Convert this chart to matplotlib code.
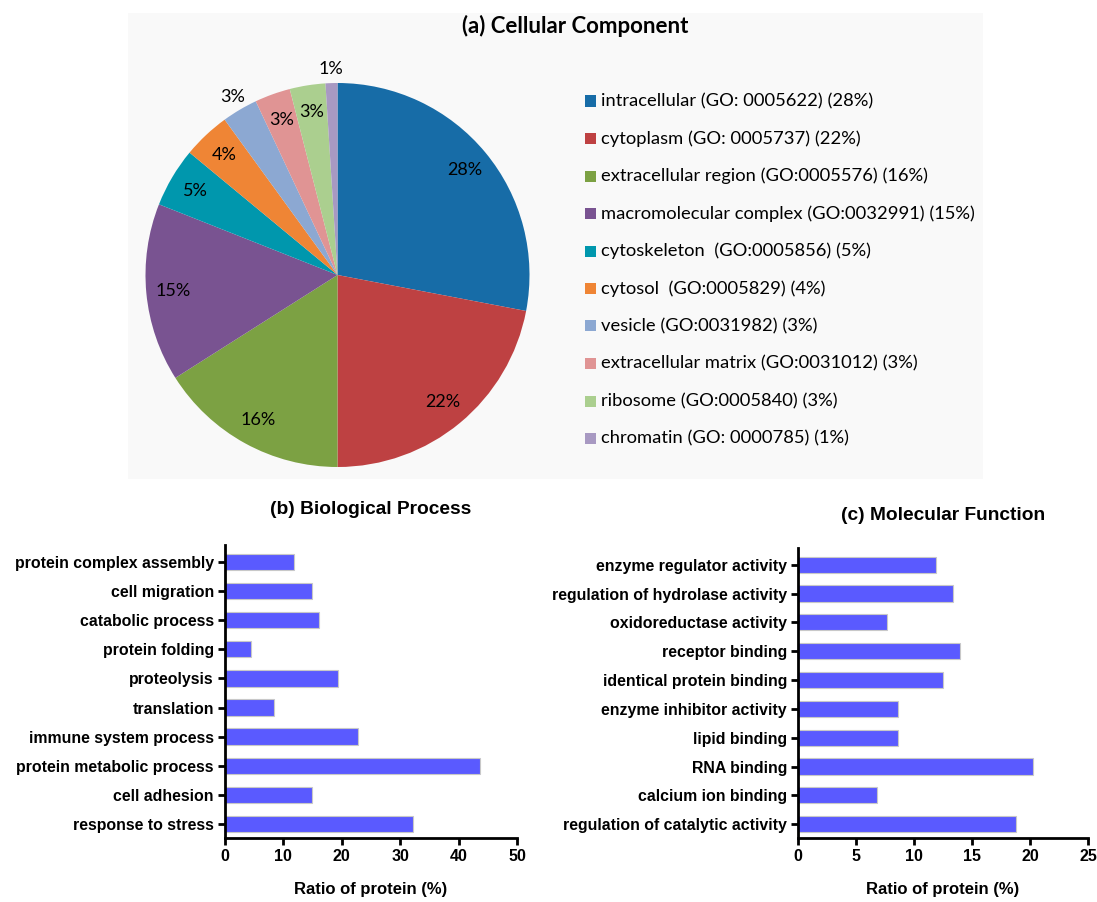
import matplotlib
matplotlib.use("Agg")
import matplotlib.pyplot as plt
from matplotlib.patches import Rectangle

W, H = 1097, 902

# (a) Cellular Component
cc_labels = [
    "intracellular (GO: 0005622) (28%)",
    "cytoplasm (GO: 0005737) (22%)",
    "extracellular region (GO:0005576) (16%)",
    "macromolecular complex (GO:0032991) (15%)",
    "cytoskeleton  (GO:0005856) (5%)",
    "cytosol  (GO:0005829) (4%)",
    "vesicle (GO:0031982) (3%)",
    "extracellular matrix (GO:0031012) (3%)",
    "ribosome (GO:0005840) (3%)",
    "chromatin (GO: 0000785) (1%)",
]
cc_values = [28, 22, 16, 15, 5, 4, 3, 3, 3, 1]
cc_colors = ["#176ca7", "#be4142", "#7ca143", "#795391", "#0097ad",
             "#ef8535", "#8ca8d2", "#e09494", "#abcf8f", "#a899c2"]

# (b) Biological Process (top to bottom)
bp_labels = ["protein complex assembly", "cell migration", "catabolic process",
             "protein folding", "proteolysis", "translation",
             "immune system process", "protein metabolic process",
             "cell adhesion", "response to stress"]
bp_values = [11.9, 14.9, 16.1, 4.4, 19.4, 8.4, 22.7, 43.6, 14.9, 32.2]

# (c) Molecular Function (top to bottom)
mf_labels = ["enzyme regulator activity", "regulation of hydrolase activity",
             "oxidoreductase activity", "receptor binding",
             "identical protein binding", "enzyme inhibitor activity",
             "lipid binding", "RNA binding", "calcium ion binding",
             "regulation of catalytic activity"]
mf_values = [11.9, 13.4, 7.7, 14.0, 12.5, 8.6, 8.6, 20.3, 6.8, 18.8]


def box(x0, y0, x1, y1):
    return [x0 / W, 1 - y1 / H, (x1 - x0) / W, (y1 - y0) / H]


fig = plt.figure(figsize=(W / 100, H / 100), dpi=100)

# light grey panel behind the pie
fig.patches.append(Rectangle((128 / W, 1 - 479 / H), (983 - 128) / W, (479 - 13) / H,
                             transform=fig.transFigure, facecolor="#f9f9f9",
                             edgecolor="none", zorder=-5))

pie_font = "Lato"
cx, cy, r = 337.5, 275, 192
ax = fig.add_axes(box(cx - r, cy - r, cx + r, cy + r))
wedges, texts, autotexts = ax.pie(
    cc_values, colors=cc_colors, startangle=90, counterclock=False,
    autopct="%d%%", pctdistance=0.86, radius=1,
    wedgeprops=dict(linewidth=0),
    textprops=dict(fontsize=13, family=pie_font, color="black"))
# small slices get their labels outside
for i in (6, 9):
    x, y = autotexts[i].get_position()
    autotexts[i].set_position((x * 1.25, y * 1.25))
ax.set_xlim(-1, 1)
ax.set_ylim(-1, 1)
ax.set_aspect("equal")
ax.axis("off")

fig.text(575 / W, 1 - 26 / H, "(a) Cellular Component", ha="center", va="center",
         fontsize=16, fontweight="bold", family=pie_font)

# legend drawn as rows
for i, (lab, col) in enumerate(zip(cc_labels, cc_colors)):
    yy = 101 + i * 37.5
    fig.patches.append(Rectangle((585 / W, 1 - (yy + 5.5) / H), 11 / W, 11 / H,
                                 transform=fig.transFigure, facecolor=col,
                                 edgecolor="none"))
    fig.text(601 / W, 1 - yy / H, lab, ha="left", va="center",
             fontsize=13.2, family=pie_font)


def barpanel(rect, labels, values, xmax, step, title, title_y):
    a = fig.add_axes(rect)
    n = len(labels)
    pos = list(range(n - 1, -1, -1))
    a.barh(pos, values, height=0.56, color="#5a5aff", edgecolor="#c8c8c8",
           linewidth=0.8)
    a.set_yticks(pos)
    a.set_yticklabels(labels, fontsize=11.4, fontweight="bold", family="Liberation Sans")
    a.set_xlim(0, xmax)
    a.set_ylim(-0.48, n - 1 + 0.58)
    a.set_xticks(range(0, xmax + 1, step))
    for t in a.get_xticklabels():
        t.set_fontweight("bold")
        t.set_fontsize(11.5)
        t.set_family("Liberation Sans")
    a.spines["top"].set_visible(False)
    a.spines["right"].set_visible(False)
    a.spines["left"].set_linewidth(2)
    a.spines["bottom"].set_linewidth(2)
    a.tick_params(width=2, length=5, pad=3)
    a.set_xlabel("Ratio of protein (%)", fontsize=12, fontweight="bold",
                 family="Liberation Sans", labelpad=13)
    x0 = rect[0] + rect[2] / 2
    fig.text(x0, 1 - title_y / H, title, ha="center", va="center",
             fontsize=13.8, fontweight="bold", family="Liberation Sans")
    return a


barpanel(box(225, 545, 517, 838), bp_labels, bp_values, 50, 10,
         "(b) Biological Process", 510)
barpanel(box(798, 548, 1088, 838), mf_labels, mf_values, 25, 5,
         "(c) Molecular Function", 516)

fig.savefig("out.png", dpi=100, facecolor="white")
